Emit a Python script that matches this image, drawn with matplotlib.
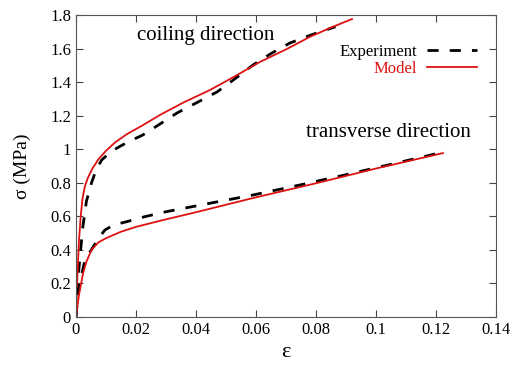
import matplotlib
matplotlib.use("Agg")
import matplotlib.pyplot as plt

plt.rcParams["font.family"] = ["Liberation Serif", "DejaVu Serif"]

# coiling direction
coil_exp_x = [0.0, 0.0003, 0.0012, 0.0023, 0.0035, 0.0052, 0.0068, 0.0086, 0.011, 0.0137, 0.017,
              0.0223, 0.028, 0.0337, 0.04, 0.047, 0.053, 0.059, 0.065, 0.0713, 0.079, 0.0865]
coil_exp_y = [0.0, 0.14, 0.33, 0.536, 0.69, 0.80, 0.88, 0.936, 0.975, 1.007, 1.04,
              1.085, 1.15, 1.216, 1.275, 1.341, 1.42, 1.502, 1.57, 1.633, 1.685, 1.73]
coil_mod_x = [0.0, 0.0005, 0.001, 0.0016, 0.0022, 0.003, 0.004, 0.0055, 0.0075, 0.01, 0.013,
              0.017, 0.022, 0.028, 0.036, 0.0447, 0.053, 0.0613, 0.07, 0.078, 0.085, 0.092]
coil_mod_y = [0.0, 0.25, 0.45, 0.60, 0.707, 0.78, 0.83, 0.885, 0.94, 0.99, 1.04,
              1.09, 1.14, 1.204, 1.28, 1.353, 1.435, 1.52, 1.595, 1.67, 1.725, 1.776]

# transverse direction
trans_exp_x = [0.0, 0.0008, 0.003, 0.0058, 0.0075, 0.0097, 0.0125, 0.0169, 0.023, 0.0302,
               0.0447, 0.059, 0.0747, 0.09, 0.105, 0.121]
trans_exp_y = [0.0, 0.161, 0.34, 0.419, 0.47, 0.519, 0.548, 0.568, 0.598, 0.628,
               0.678, 0.727, 0.787, 0.848, 0.91, 0.977]
trans_mod_x = [0.0, 0.001, 0.0024, 0.0035, 0.0052, 0.0075, 0.0102, 0.015, 0.0202, 0.03,
               0.039, 0.059, 0.08, 0.1, 0.1223]
trans_mod_y = [0.0, 0.13, 0.262, 0.33, 0.40, 0.445, 0.471, 0.508, 0.538, 0.582,
               0.62, 0.709, 0.797, 0.885, 0.977]

fig = plt.figure(figsize=(5.13, 3.71), dpi=100)
ax = fig.add_axes([0.148, 0.1456, 0.819, 0.814])

ax.plot(coil_exp_x, coil_exp_y, color="black", lw=2, dashes=(4, 4), label="Experiment")
ax.plot(coil_mod_x, coil_mod_y, color="#dd1111", lw=1.3, label="Model")
ax.plot(trans_exp_x, trans_exp_y, color="black", lw=2, dashes=(4, 4))
ax.plot(trans_mod_x, trans_mod_y, color="#dd1111", lw=1.3)

ax.set_xlim(0, 0.14)
ax.set_ylim(0, 1.8)
ax.set_xticks([0, 0.02, 0.04, 0.06, 0.08, 0.1, 0.12, 0.14])
ax.set_xticklabels(["0", "0.02", "0.04", "0.06", "0.08", "0.1", "0.12", "0.14"])
ax.set_yticks([0, 0.2, 0.4, 0.6, 0.8, 1, 1.2, 1.4, 1.6, 1.8])
ax.set_yticklabels(["0", "0.2", "0.4", "0.6", "0.8", "1", "1.2", "1.4", "1.6", "1.8"])
ax.tick_params(direction="in", top=True, right=True, labelsize=12, length=5, color="#444444")
for s in ax.spines.values():
    s.set_color("#555555")

ax.set_xlabel("ε", fontsize=16)
ax.set_ylabel("σ (MPa)", fontsize=14, labelpad=14)

ax.text(0.0203, 1.68, "coiling direction", fontsize=15, va="center")
ax.text(0.0767, 1.10, "transverse direction", fontsize=15, va="center")

leg = ax.legend(loc="upper right", bbox_to_anchor=(0.99, 0.955), frameon=False,
                markerfirst=False, fontsize=12, handlelength=3.0, handletextpad=0.6,
                labelspacing=0.1)
leg.get_texts()[1].set_color("#dd1111")

fig.savefig("out.png", dpi=100)
